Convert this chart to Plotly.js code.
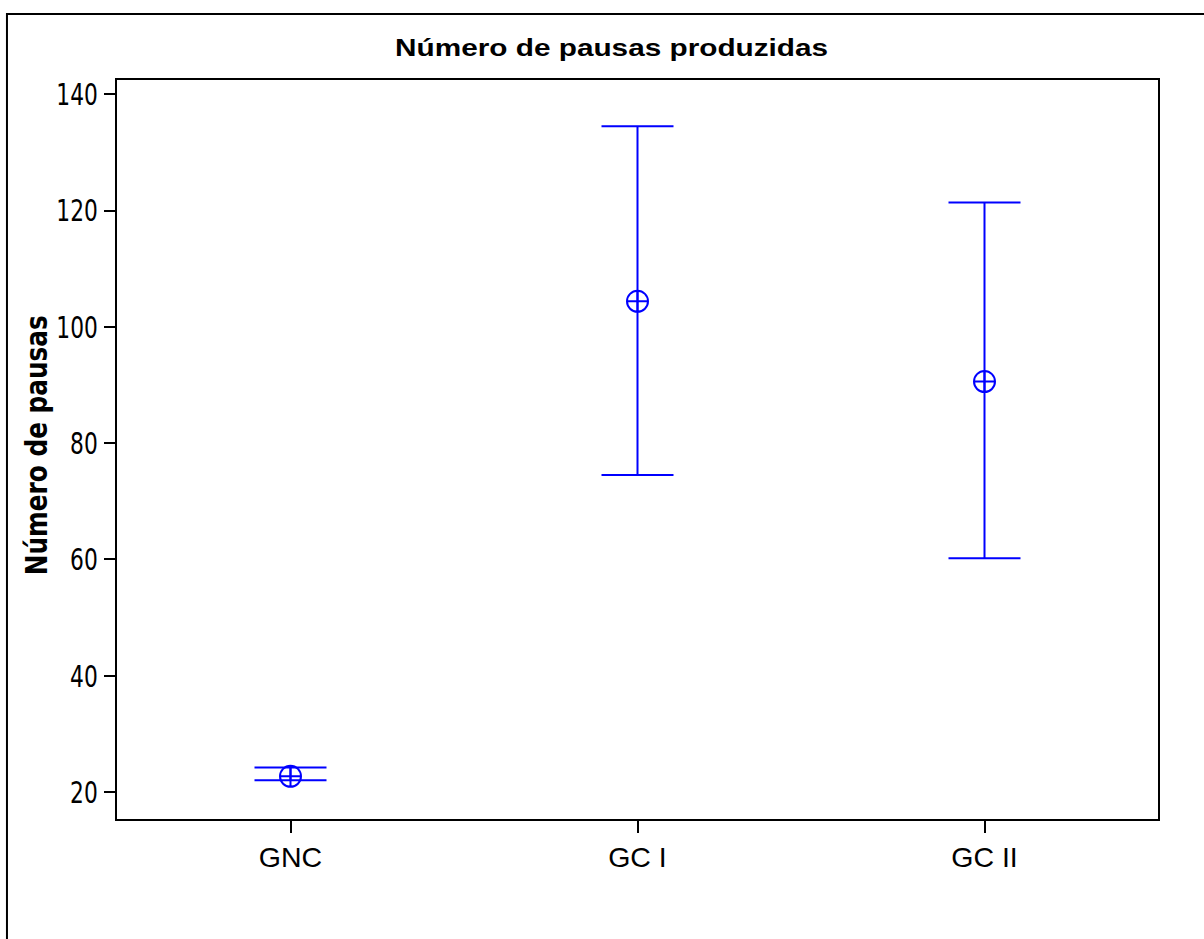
<!DOCTYPE html>
<html>
<head>
<meta charset="utf-8">
<script src="https://cdn.plot.ly/plotly-3.0.1.min.js"></script>
<style>html,body{margin:0;padding:0;background:#fff;}#chart{width:1204px;height:939px;}</style>
</head>
<body>
<div id="chart"></div>
<script>
const groups = ["GNC", "GC I", "GC II"];
const means = [22.7, 104.4, 90.6];
const upper = [24.2, 134.5, 121.4];
const lower = [22.0, 74.5, 60.2];
const yTicks = [20, 40, 60, 80, 100, 120, 140];
const chartTitle = "Número de pausas produzidas";
const yTitle = "Número de pausas";

const plus = upper.map((u, i) => u - means[i]);
const minus = lower.map((l, i) => means[i] - l);

const trace = {
  type: "scatter",
  mode: "markers",
  x: groups,
  y: means,
  marker: {symbol: "circle-cross-open", size: 21, color: "#0000ff", line: {width: 2, color: "#0000ff"}},
  error_y: {type: "data", symmetric: false, array: plus, arrayminus: minus,
            color: "#0000ff", thickness: 2, width: 36},
  hoverinfo: "x+y"
};

const narrow = "'DejaVu Sans Condensed', 'Liberation Sans Narrow', 'Arial Narrow', sans-serif";
const arial = "'Liberation Sans', Arial, Helvetica, sans-serif";

const layout = {
  width: 1204, height: 939,
  margin: {l: 117, r: 46, t: 80, b: 120},
  paper_bgcolor: "#fff", plot_bgcolor: "#fff",
  showlegend: false,
  title: {text: "<b>" + chartTitle + "</b>", font: {family: arial, size: 24, color: "#000"},
          xref: "container", x: 0.508, xanchor: "center", yref: "container", y: 0.949, yanchor: "middle"},
  xaxis: {
    type: "category", range: [-0.5, 2.5],
    showline: true, linecolor: "#000", linewidth: 2, mirror: true,
    ticks: "outside", ticklen: 12, tickwidth: 2, tickcolor: "#000",
    showgrid: false, zeroline: false,
    tickfont: {family: arial, size: 28.5, color: "#000"}
  },
  yaxis: {
    range: [15.35, 142.46], tickvals: yTicks, ticktext: yTicks.map(String),
    showline: true, linecolor: "#000", linewidth: 2, mirror: true,
    ticks: "outside", ticklen: 11, tickwidth: 2, tickcolor: "#000",
    showgrid: false, zeroline: false,
    tickfont: {family: narrow, size: 31, color: "#000"}
  },
  annotations: [{text: "<b>" + yTitle + "</b>", xref: "paper", yref: "paper", x: -0.0778, y: 0.506,
                 xanchor: "center", yanchor: "middle", textangle: -90, showarrow: false,
                 font: {family: narrow, size: 30, color: "#000"}}],
  shapes: [{type: "rect", xref: "paper", yref: "paper", x0: -0.1057, x1: 1.3, y0: -0.4, y1: 1.0894,
            line: {color: "#000", width: 2}, fillcolor: "rgba(0,0,0,0)", layer: "above"}]
};

function squeeze(el, len) {
  el.setAttribute("textLength", len);
  el.setAttribute("lengthAdjust", "spacingAndGlyphs");
}

Plotly.newPlot("chart", [trace], layout, {displayModeBar: false, staticPlot: true}).then(gd => {
  gd.querySelectorAll(".ytick text").forEach(t => {
    const w = t.getComputedTextLength();
    squeeze(t, (w * 0.78).toFixed(1));
  });
  const tt = gd.querySelector(".gtitle");
  if (tt) squeeze(tt, 433);
  const at = gd.querySelector(".annotation-text");
  if (at) squeeze(at, 260);
});
</script>
</body>
</html>
